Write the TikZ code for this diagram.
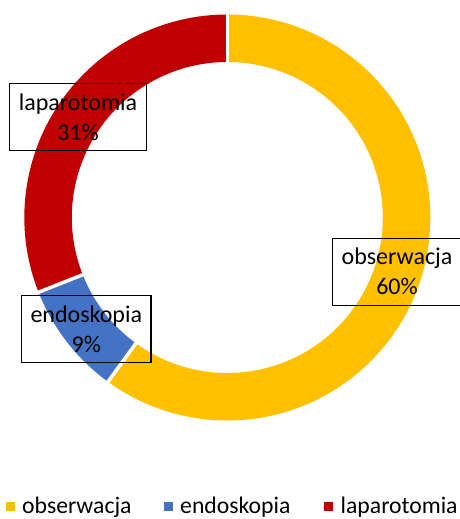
\documentclass[tikz,border=0pt]{standalone}
\usepackage{fontspec}
\setmainfont{Carlito}
\definecolor{obsyellow}{HTML}{FFC000}
\definecolor{endblue}{HTML}{4472C4}
\definecolor{lapred}{HTML}{C00000}
\begin{document}
\begin{tikzpicture}[x=1pt,y=1pt,
    lbl/.style={draw,line width=1.3pt,align=center,font=\fontsize{24}{30}\selectfont,
      minimum height=67pt,inner xsep=9pt},
    legtext/.style={anchor=base west,inner sep=0pt,font=\fontsize{23.7}{28}\selectfont},
    legbox/.style={minimum size=9pt,inner sep=0pt}]
    \clip (0,0) rectangle (460,519);
    % ring
    \foreach \a/\b/\c in {90/-126/obsyellow,-126/-158.4/endblue,-158.4/-270/lapred}
        \fill[\c,shift={(227.3,301.5)}] (\a:203) arc (\a:\b:203) -- (\b:155.5) arc (\b:\a:155.5) -- cycle;
    \foreach \a in {90,-126,-158.4}
        \draw[white,line width=3.5pt,shift={(227.3,301.5)}] (\a:152) -- (\a:206);
    % labels
    \node[lbl] (lap) at (78,402) {laparotomia\\31\%};
    \node[lbl] (endo) at (86.3,189.7) {endoskopia\\9\%};
    \node[lbl] (obs) at (397,247.3) {obserwacja\\60\%};
    % legend
    \foreach \x/\t/\c/\s in {10.4/22/obsyellow/obserwacja,168.8/180/endblue/endoskopia,328.7/340.5/lapred/laparotomia}{
        \node[legbox,fill=\c] (box-\s) at (\x,12.5) {};
        \node[legtext] (leg-\s) at (\t,5.5) {\s};
    }
\end{tikzpicture}
\end{document}
